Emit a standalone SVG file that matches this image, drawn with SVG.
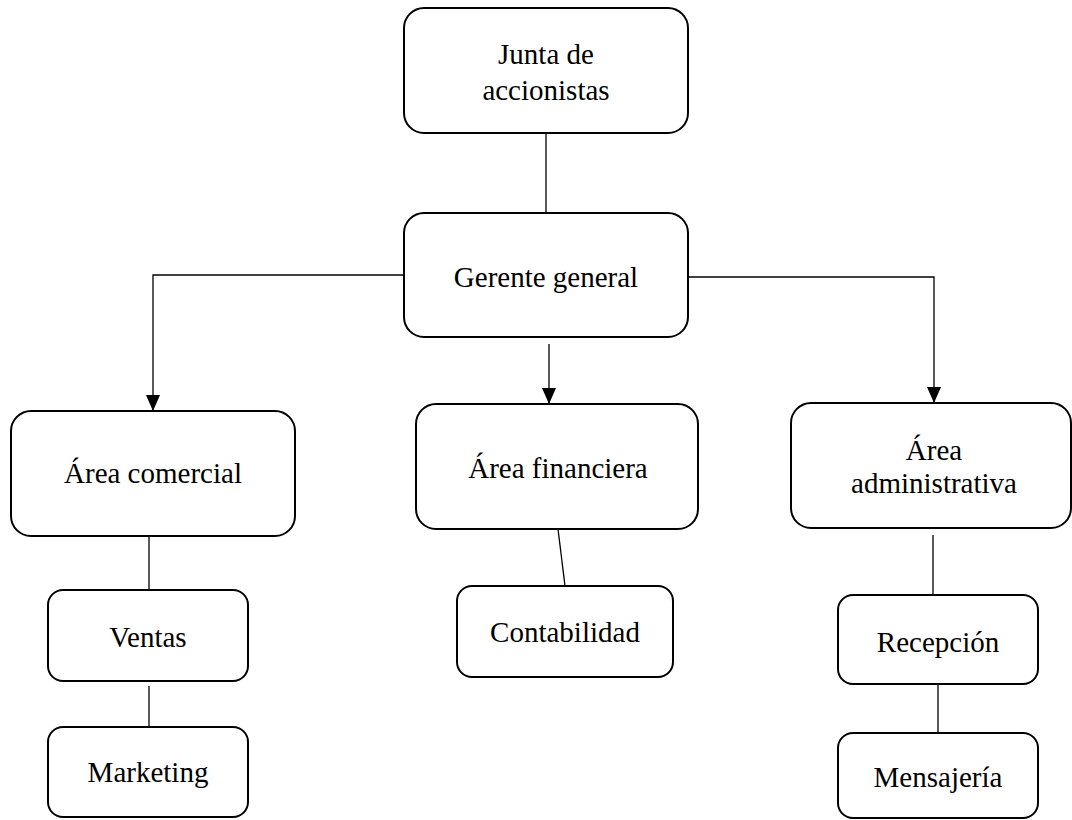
<svg xmlns="http://www.w3.org/2000/svg" width="1072" height="820" viewBox="0 0 1072 820">
<defs>
<style>
.box{fill:#fff;stroke:#000;stroke-width:2}
.t{font-family:"Liberation Serif","Times New Roman",serif;font-size:29px;fill:#000;text-anchor:middle}
.c{fill:none;stroke:#000;stroke-width:1.3}
</style>
<marker id="ah" markerWidth="16" markerHeight="14" refX="16" refY="7" orient="auto" markerUnits="userSpaceOnUse" viewBox="0 0 16 14">
<path d="M0,0 L16,7 L0,14 Z" fill="#000"/>
</marker>
</defs>
<rect width="1072" height="820" fill="#fff"/>
<g id="connectors">
<line class="c" x1="546" y1="133" x2="546" y2="213"/>
<polyline class="c" points="404,275 153,275 153,411" marker-end="url(#ah)"/>
<line class="c" x1="549" y1="344" x2="549" y2="404" marker-end="url(#ah)"/>
<polyline class="c" points="688,277 934,277 934,403" marker-end="url(#ah)"/>
<line class="c" x1="149" y1="537" x2="149" y2="590"/>
<line class="c" x1="149" y1="686" x2="149" y2="727"/>
<line class="c" x1="558" y1="529" x2="565" y2="586"/>
<line class="c" x1="933" y1="535" x2="933" y2="595"/>
<line class="c" x1="938" y1="684" x2="938" y2="733"/>
</g>
<g id="junta">
<rect class="box" x="404" y="8" width="284" height="125" rx="20"/>
<text class="t" x="546" y="64">Junta de</text>
<text class="t" x="546" y="100">accionistas</text>
</g>
<g id="gerente">
<rect class="box" x="404" y="213" width="284" height="124" rx="20"/>
<text class="t" x="546" y="287">Gerente general</text>
</g>
<g id="comercial">
<rect class="box" x="11" y="411" width="284" height="125" rx="20"/>
<text class="t" x="153" y="483">Área comercial</text>
</g>
<g id="financiera">
<rect class="box" x="416" y="404" width="282" height="125" rx="20"/>
<text class="t" x="558" y="478">Área financiera</text>
</g>
<g id="administrativa">
<rect class="box" x="791" y="403" width="280" height="125" rx="20"/>
<text class="t" x="934" y="460">Área</text>
<text class="t" x="934" y="493">administrativa</text>
</g>
<g id="ventas">
<rect class="box" x="48" y="590" width="200" height="91" rx="15"/>
<text class="t" x="148" y="647">Ventas</text>
</g>
<g id="marketing">
<rect class="box" x="48" y="727" width="200" height="90" rx="15"/>
<text class="t" x="148" y="782">Marketing</text>
</g>
<g id="contabilidad">
<rect class="box" x="457" y="586" width="216" height="91" rx="15"/>
<text class="t" x="565" y="642">Contabilidad</text>
</g>
<g id="recepcion">
<rect class="box" x="838" y="595" width="200" height="89" rx="15"/>
<text class="t" x="938" y="652">Recepción</text>
</g>
<g id="mensajeria">
<rect class="box" x="838" y="733" width="200" height="85" rx="15"/>
<text class="t" x="938" y="787">Mensajería</text>
</g>
</svg>
